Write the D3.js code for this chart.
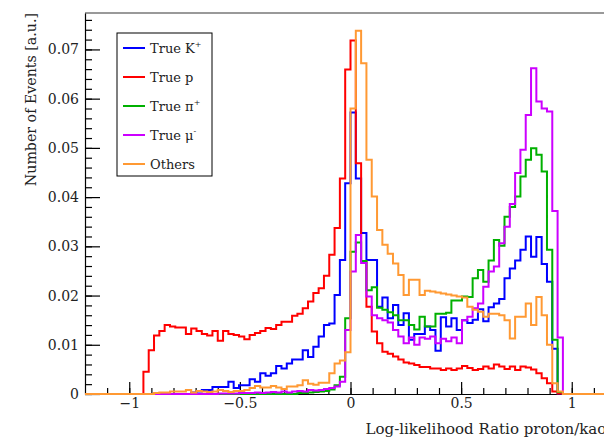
<!DOCTYPE html>
<html>
<head>
<meta charset="utf-8">
<script src="https://cdn.jsdelivr.net/npm/d3@7"></script>
<style>
  body { margin: 0; background: #fff; }
  svg { display: block; }
  text { font-family: "DejaVu Serif", "Liberation Serif", serif; fill: #222; }
</style>
</head>
<body>
<svg id="chart" width="604" height="438"></svg>
<script>

// histogram definition: 100 bins from -1.2 to 1.2
var xRange = [-1.2, 1.2];
var nBins = 100;
var yMax = 0.0774;

var xMajorTicks = [-1, -0.5, 0, 0.5, 1];
var yMajorTicks = [0, 0.01, 0.02, 0.03, 0.04, 0.05, 0.06, 0.07];

var seriesNames = ["True K", "True p", "True \u03c0", "True \u03bc", "Others"];
var seriesSups = ["+", "", "+", "-", ""];
var seriesColors = ["#0000ff", "#ff0000", "#00b000", "#cc00ff", "#ff9933"];

// bin contents (bins 0..99)
var kaon = [
  0,0,0,0,0,0,0,0,0,0,
  0,0,0,0,0,0,0,0,0,0,
  0.0003,0.0005,0.0008,0.0008,0.0014,0.0014,0.0014,0.0025,0.0012,0.0018,
  0.0018,0.0030,0.0025,0.0042,0.0037,0.0042,0.0057,0.0052,0.0062,0.0070,
  0.0070,0.0089,0.0075,0.0096,0.0117,0.0140,0.0143,0.0201,0.0272,0.0428,
  0.0572,0.0438,0.0327,0.0272,0.0272,0.0177,0.0196,0.0154,0.0181,0.0140,
  0.0164,0.0110,0.0122,0.0122,0.0137,0.0130,0.0088,0.0156,0.0137,0.0154,
  0.0130,0.0150,0.0144,0.0151,0.0172,0.0148,0.0176,0.0184,0.0193,0.0235,
  0.0255,0.0271,0.0293,0.0320,0.0279,0.0319,0.0264,0.0228,0.0092,0.0001,
  0,0,0,0,0,0,0,0,0,0
];

var proton = [
  0,0,0,0,0,0,0,0,0,0,
  0,0.0045,0.0089,0.0119,0.0128,0.0140,0.0137,0.0135,0.0135,0.0122,
  0.0133,0.0128,0.0122,0.0119,0.0128,0.0108,0.0128,0.0122,0.0120,0.0117,
  0.0111,0.0120,0.0124,0.0128,0.0134,0.0132,0.0140,0.0147,0.0147,0.0159,
  0.0163,0.0174,0.0188,0.0205,0.0215,0.0240,0.0283,0.0337,0.0438,0.0659,
  0.0718,0.0469,0.0270,0.0177,0.0127,0.0103,0.0086,0.0082,0.0076,0.0070,
  0.0064,0.0062,0.0059,0.0055,0.0055,0.0052,0.0052,0.0049,0.0052,0.0049,
  0.0052,0.0057,0.0053,0.0049,0.0051,0.0056,0.0052,0.0060,0.0056,0.0051,
  0.0056,0.0049,0.0056,0.0054,0.0050,0.0042,0.0032,0.0022,0.0005,0.0001,
  0,0,0,0,0,0,0,0,0,0
];

var pion = [
  0,0,0,0,0,0,0,0,0,0,
  0,0,0,0,0,0,0,0,0,0,
  0,0,0,0,0,0,0,0,0,0,
  0,0,0,0,0,0,0,0,0,0,
  0.0002,0.0002,0.0003,0.0004,0.0005,0.0006,0.0009,0.0018,0.0035,0.0154,
  0.0289,0.0308,0.0270,0.0211,0.0217,0.0175,0.0171,0.0166,0.0160,0.0150,
  0.0150,0.0140,0.0131,0.0157,0.0137,0.0137,0.0163,0.0163,0.0165,0.0190,
  0.0190,0.0198,0.0197,0.0235,0.0252,0.0228,0.0271,0.0313,0.0301,0.0360,
  0.0380,0.0401,0.0442,0.0476,0.0499,0.0486,0.0452,0.0293,0.0110,0.0004,
  0,0,0,0,0,0,0,0,0,0
];

var muon = [
  0,0,0,0,0,0,0,0,0,0,
  0,0,0,0,0,0,0,0,0,0,
  0,0,0,0,0,0.0001,0.0001,0.0001,0.0001,0.0002,
  0.0002,0.0002,0.0003,0.0002,0.0003,0.0004,0.0003,0.0005,0.0003,0.0005,
  0.0006,0.0005,0.0008,0.0007,0.0008,0.0010,0.0012,0.0015,0.0025,0.0130,
  0.0249,0.0323,0.0266,0.0198,0.0160,0.0154,0.0150,0.0145,0.0130,0.0117,
  0.0103,0.0115,0.0100,0.0115,0.0112,0.0117,0.0103,0.0112,0.0107,0.0115,
  0.0103,0.0150,0.0157,0.0174,0.0184,0.0218,0.0249,0.0259,0.0306,0.0340,
  0.0386,0.0449,0.0496,0.0567,0.0662,0.0594,0.0580,0.0574,0.0372,0.0115,
  0,0,0,0,0,0,0,0,0,0
];

var others = [
  0,0,0,0,0,0,0,0,0,0,
  0,0,0,0.0002,0.0003,0.0003,0.0005,0.0005,0.0005,0.0008,
  0.0003,0.0006,0.0005,0.0004,0.0005,0.0008,0.0006,0.0004,0.0006,0.0006,
  0.0008,0.0012,0.0016,0.0013,0.0013,0.0016,0.0013,0.0010,0.0015,0.0015,
  0.0018,0.0028,0.0021,0.0019,0.0023,0.0023,0.0042,0.0062,0.0068,0.0085,
  0.0580,0.0738,0.0672,0.0476,0.0401,0.0333,0.0303,0.0285,0.0265,0.0242,
  0.0201,0.0232,0.0232,0.0201,0.0210,0.0208,0.0206,0.0204,0.0202,0.0200,
  0.0198,0.0196,0.0177,0.0171,0.0167,0.0157,0.0163,0.0163,0.0160,0.0150,
  0.0113,0.0157,0.0157,0.0184,0.0140,0.0197,0.0160,0.0100,0.0022,0.0005,
  0,0,0,0,0,0,0,0,0,0
];

var allSeries = [kaon, proton, pion, muon, others];

var svg = d3.select("#chart");
var margin = {left: 85, top: 13, right: -12, bottom: 44};
var W = 604, H = 438;

var x = d3.scaleLinear().domain(xRange).range([margin.left, W - margin.right]);
var y = d3.scaleLinear().domain([0, yMax]).range([H - margin.bottom, margin.top]);

var binWidth = (xRange[1] - xRange[0]) / nBins;

// clip to frame
svg.append("clipPath").attr("id", "frame")
  .append("rect")
  .attr("x", x(xRange[0])).attr("y", y(yMax) - 1)
  .attr("width", x(xRange[1]) - x(xRange[0]))
  .attr("height", y(0) - y(yMax) + 3);

// top frame line
svg.append("line")
  .attr("x1", x(xRange[0])).attr("x2", x(xRange[1]))
  .attr("y1", y(yMax)).attr("y2", y(yMax))
  .attr("stroke", "#777").attr("stroke-width", 1.5);

// y axis, ticks pointing inward
var yMinorTicks = d3.range(0, 0.0761, 0.002);
svg.append("g")
  .attr("transform", "translate(" + x(xRange[0]) + ",0)")
  .call(d3.axisLeft(y).tickValues(yMinorTicks).tickSizeInner(-7).tickSizeOuter(0).tickFormat(""))
  .call(function(g){ g.select(".domain").remove(); });

svg.append("g")
  .attr("class", "y-axis")
  .attr("transform", "translate(" + x(xRange[0]) + ",0)")
  .call(d3.axisLeft(y).tickValues(yMajorTicks).tickSizeInner(-15).tickSizeOuter(0).tickPadding(6)
    .tickFormat(function(d){ return d === 0 ? "0" : d3.format(".2f")(d); }));

// x axis, ticks pointing inward
var xMinorTicks = d3.range(-1.1, 1.21, 0.1);
svg.append("g")
  .attr("transform", "translate(0," + y(0) + ")")
  .call(d3.axisBottom(x).tickValues(xMinorTicks).tickSizeInner(-6).tickSizeOuter(0).tickFormat(""))
  .call(function(g){ g.select(".domain").remove(); });

svg.append("g")
  .attr("class", "x-axis")
  .attr("transform", "translate(0," + y(0) + ")")
  .call(d3.axisBottom(x).tickValues(xMajorTicks).tickSizeInner(-12).tickSizeOuter(0).tickPadding(4)
    .tickFormat(d3.format("")));

svg.selectAll(".x-axis text, .y-axis text")
  .style("font-size", "14px").style("font-family", "'DejaVu Serif', serif").attr("fill", "#222");
svg.selectAll(".tick line, .domain").attr("stroke", "#000").attr("stroke-width", 1.2);

// histograms as step outlines
var line = d3.line().x(function(d){ return x(d[0]); }).y(function(d){ return y(d[1]); });

function stepPoints(values){
  var pts = [[xRange[0], 0]];
  values.forEach(function(v, i){
    var lo = xRange[0] + i * binWidth;
    pts.push([lo, v], [lo + binWidth, v]);
  });
  pts.push([xRange[1], 0]);
  return pts;
}

svg.append("g").attr("clip-path", "url(#frame)")
  .selectAll("path")
  .data(allSeries)
  .enter().append("path")
  .attr("d", function(d){ return line(stepPoints(d)); })
  .attr("fill", "none")
  .attr("stroke", function(d, i){ return seriesColors[i]; })
  .attr("stroke-width", 2)
  .attr("stroke-linejoin", "miter");

// axis titles
svg.append("text")
  .attr("x", x(xRange[1])).attr("y", 434)
  .attr("text-anchor", "end")
  .style("font-size", "15px")
  .text("Log-likelihood Ratio proton/kaon");

svg.append("text")
  .attr("transform", "translate(36," + y(yMax) + ") rotate(-90)")
  .attr("text-anchor", "end")
  .style("font-size", "14.2px")
  .text("Number of Events [a.u.]");

// legend
var legend = svg.append("g").attr("transform", "translate(117,33)");
legend.append("rect")
  .attr("width", 95).attr("height", 143)
  .attr("fill", "#fff").attr("stroke", "#000").attr("stroke-width", 1);

var entry = legend.selectAll("g.entry")
  .data(seriesNames)
  .enter().append("g")
  .attr("class", "entry")
  .attr("transform", function(d, i){ return "translate(0," + (15 + i * 29) + ")"; });

entry.append("line")
  .attr("x1", 6).attr("x2", 28)
  .attr("stroke", function(d, i){ return seriesColors[i]; })
  .attr("stroke-width", 2);

var label = entry.append("text")
  .attr("x", 33).attr("y", 5)
  .style("font-size", "13px");
label.append("tspan").text(function(d){ return d; });
label.append("tspan")
  .attr("dy", -6).style("font-size", "8px")
  .text(function(d, i){ return seriesSups[i]; });

</script>
</body>
</html>
